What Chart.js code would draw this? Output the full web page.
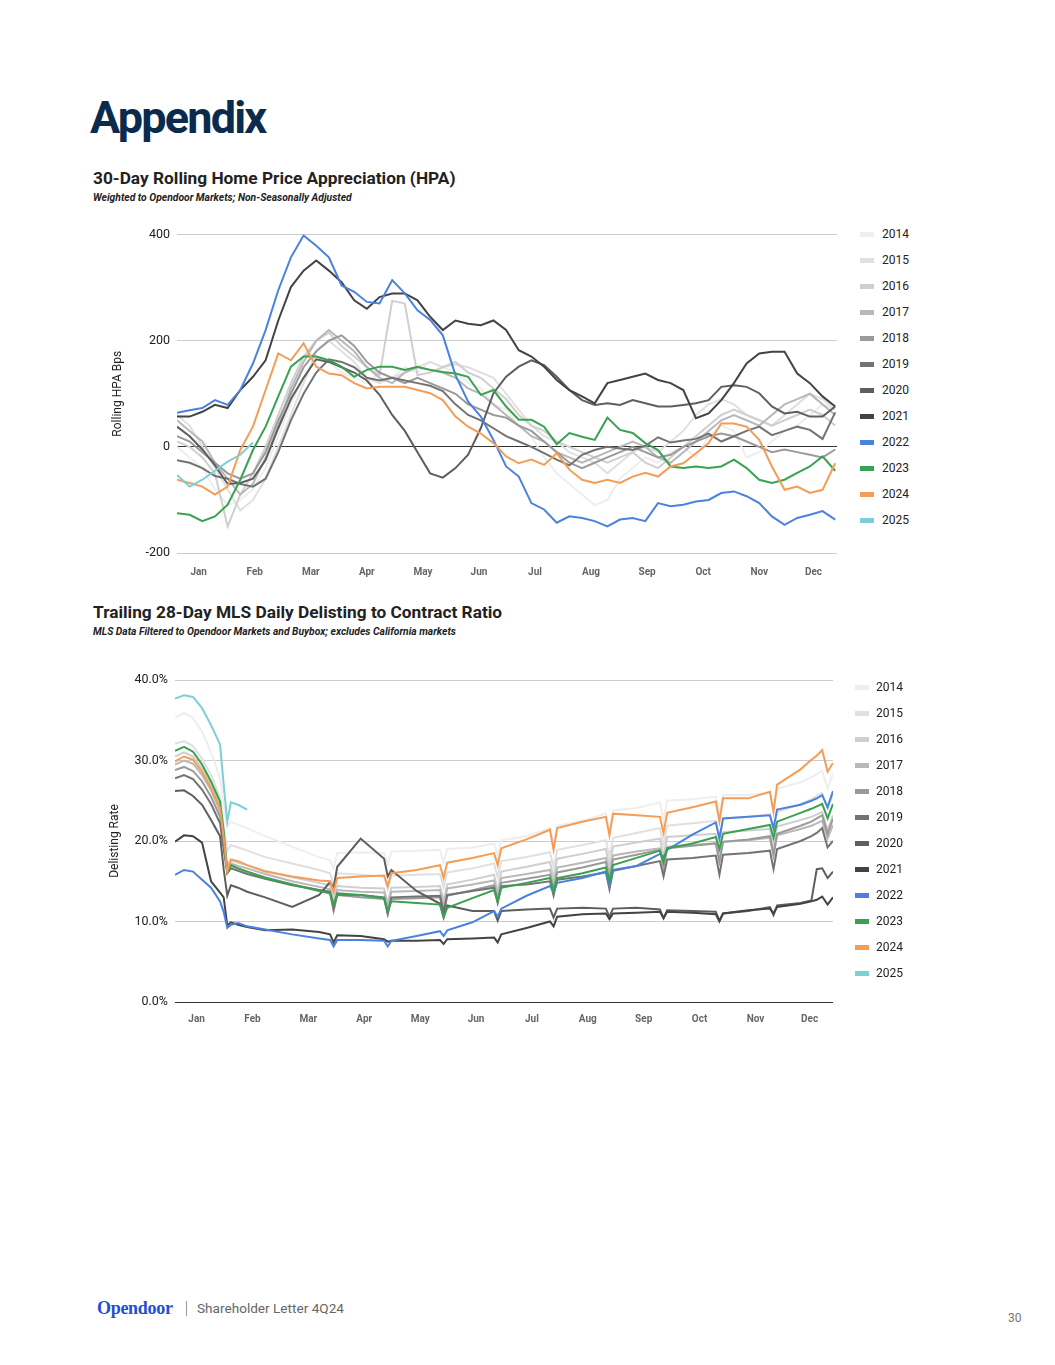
<!DOCTYPE html>
<html>
<head>
<meta charset="utf-8">
<script src="https://cdn.jsdelivr.net/npm/chart.js@4.4.1/dist/chart.umd.min.js"></script>
<style>
  html, body { margin: 0; padding: 0; background: #fff; }
  body { width: 1055px; height: 1365px; position: relative; overflow: hidden; font-family: Roboto, Arial, sans-serif; }
  .abs { position: absolute; white-space: nowrap; }
  #page-title { left: 90px; top: 95px; font-size: 45px; line-height: 45px; font-weight: 700; color: #0b2b4c; letter-spacing: -1.8px; }
  .chart-title { left: 93px; font-size: 17.3px; line-height: 20px; font-weight: 700; color: #222; }
  .chart-sub { left: 93px; font-size: 10.3px; line-height: 12px; font-weight: 700; font-style: italic; color: #222; }
  .chart-box { position: absolute; left: 100px; width: 760px; height: 370px; }
  .legend { position: absolute; left: 0; top: 0; font-size: 12px; color: #222; }
  .legend .item { position: absolute; height: 14px; line-height: 14px; white-space: nowrap; }
  .legend .sw { position: absolute; left: 0; top: 5px; width: 14px; height: 5px; }
  .legend .txt { position: absolute; top: 0; }
  #brand { left: 97px; top: 1298px; font-family: "Liberation Serif", "DejaVu Serif", serif; font-weight: 700; font-size: 18px; line-height: 20px; color: #1f4fd4; letter-spacing: -0.3px; }
  #sep { left: 186px; top: 1301px; width: 1px; height: 15px; background: #999; }
  #letter { left: 197px; top: 1301px; font-size: 13.6px; line-height: 15px; color: #666; }
  #pageno { left: 1008px; top: 1311px; font-size: 12px; line-height: 14px; color: #777; }
</style>
</head>
<body>
<div id="page-title" class="abs">Appendix</div>

<div class="abs chart-title" style="top:168px">30-Day Rolling Home Price Appreciation (HPA)</div>
<div class="abs chart-sub" style="top:192px">Weighted to Opendoor Markets; Non-Seasonally Adjusted</div>
<div class="chart-box" style="top:220px"><canvas id="hpaChart"></canvas></div>
<div id="hpaLegend" class="legend"></div>

<div class="abs chart-title" style="top:602px">Trailing 28-Day MLS Daily Delisting to Contract Ratio</div>
<div class="abs chart-sub" style="top:626px">MLS Data Filtered to Opendoor Markets and Buybox; excludes California markets</div>
<div class="chart-box" style="top:665px"><canvas id="delistChart"></canvas></div>
<div id="delistLegend" class="legend"></div>

<div id="brand" class="abs">Opendoor</div>
<div id="sep" class="abs"></div>
<div id="letter" class="abs">Shareholder Letter 4Q24</div>
<div id="pageno" class="abs">30</div>

<script>
// series names and colours
const years = ['2014', '2015', '2016', '2017', '2018', '2019', '2020', '2021', '2022', '2023', '2024', '2025'];
const yearColors = ['#eeeeee', '#e0e0e0', '#cfcfcf', '#b8b8b8', '#9a9a9a', '#737373', '#5e5e5e', '#434343', '#4a82e0', '#38a251', '#f49d56', '#7ccfd6'];
const monthLabels = ['Jan', 'Feb', 'Mar', 'Apr', 'May', 'Jun', 'Jul', 'Aug', 'Sep', 'Oct', 'Nov', 'Dec'];
const monthTicks = [12, 43, 74, 105, 136, 167, 198, 229, 260, 291, 322, 352];

// 30-day rolling HPA (bps), one value per week of the year
const hpaDays = [0, 7, 14, 21, 28, 35, 42, 49, 56, 63, 70, 77, 84, 91, 98, 105, 112, 119, 126, 133, 140, 147, 154, 161, 168, 175, 182, 189, 196, 203, 210, 217, 224, 231, 238, 245, 252, 259, 266, 273, 280, 287, 294, 301, 308, 315, 322, 329, 336, 343, 350, 357, 364];
const hpaTicks = [-200, 0, 200, 400];
const hpa2014 = [0, -20, -40, -80, -110, -100, -80, -40, 20, 80, 130, 170, 160, 140, 130, 120, 140, 130, 150, 140, 160, 150, 140, 120, 110, 80, 70, 40, 20, -20, -50, -70, -90, -110, -100, -60, -40, -20, -30, -10, 0, -20, 20, 40, 30, -20, -10, 10, 30, 40, 60, 80, 70];
const hpa2015 = [60, 40, 0, -40, -80, -120, -100, -60, 0, 60, 120, 180, 200, 180, 160, 130, 120, 130, 140, 150, 160, 150, 155, 150, 140, 130, 100, 70, 40, 20, 10, -10, -20, -30, -50, -30, -10, 0, -10, 10, 30, 60, 80, 90, 80, 60, 50, 40, 60, 80, 100, 90, 70];
const hpa2016 = [10, 0, -20, -50, -150, -90, -50, 0, 60, 120, 170, 200, 215, 190, 170, 150, 135, 275, 270, 135, 140, 150, 160, 140, 130, 110, 90, 60, 40, 30, 10, 0, -10, -20, -30, -20, -10, -30, -40, -20, 0, 20, 40, 60, 70, 60, 50, 40, 50, 60, 70, 60, 40];
const hpa2017 = [50, 30, 10, -30, -60, -90, -70, -20, 40, 110, 160, 200, 220, 200, 180, 150, 130, 120, 140, 150, 145, 140, 130, 110, 100, 80, 60, 40, 20, 10, -10, -20, -30, -20, -10, 0, 10, 0, -20, -30, -10, 10, 30, 50, 60, 50, 40, 60, 80, 90, 100, 80, 60];
const hpa2018 = [20, 10, -10, -30, -50, -60, -50, -10, 50, 100, 150, 180, 200, 210, 190, 160, 140, 130, 120, 130, 120, 110, 100, 80, 70, 60, 55, 40, 30, 10, -10, -30, -40, -30, -20, -10, 0, -10, -20, -15, 0, 10, 20, 25, 20, 10, 0, -10, -5, -10, -15, -20, -5];
const hpa2019 = [-25, -30, -40, -55, -60, -70, -75, -60, -10, 50, 100, 140, 165, 160, 150, 130, 125, 130, 125, 120, 115, 105, 80, 60, 50, 35, 20, 10, 0, -12, -24, -35, -15, -6, 0, -3, -6, 2, 18, 8, 12, 15, 25, 10, 20, 30, 38, 22, 30, 38, 32, 15, 65];
const hpa2020 = [38, 20, -5, -35, -70, -68, -60, -25, 35, 90, 130, 165, 160, 150, 140, 125, 98, 60, 30, -10, -50, -58, -40, -15, 35, 101, 132, 151, 163, 154, 132, 107, 88, 79, 82, 79, 88, 82, 76, 76, 79, 82, 88, 113, 116, 113, 101, 76, 63, 66, 57, 57, 76];
const hpa2021 = [57, 57, 66, 79, 73, 107, 132, 163, 238, 301, 332, 351, 332, 310, 276, 260, 282, 289, 289, 276, 245, 220, 238, 232, 229, 238, 220, 182, 170, 151, 126, 107, 95, 82, 120, 126, 132, 138, 126, 120, 107, 54, 63, 88, 120, 157, 176, 179, 179, 138, 120, 95, 76];
const hpa2022 = [64, 69, 73, 88, 79, 107, 157, 220, 295, 357, 398, 379, 357, 304, 292, 273, 270, 314, 289, 257, 239, 210, 135, 85, 57, 13, -37, -56, -106, -118, -143, -131, -134, -140, -150, -137, -134, -140, -106, -112, -109, -103, -100, -87, -84, -93, -106, -131, -147, -134, -128, -121, -137];
const hpa2023 = [-125, -128, -140, -131, -109, -62, -6, 38, 95, 151, 170, 170, 163, 151, 132, 145, 151, 151, 145, 151, 145, 141, 138, 132, 98, 107, 76, 51, 51, 38, 5, 26, 19, 13, 55, 32, 26, 7, -6, -37, -40, -37, -40, -37, -24, -40, -62, -68, -62, -49, -37, -18, -45];
const hpa2024 = [-62, -68, -75, -90, -75, -6, 38, 107, 176, 163, 195, 151, 138, 135, 120, 110, 113, 113, 113, 107, 101, 88, 57, 38, 25, 7, -18, -31, -24, -34, -12, -43, -62, -68, -62, -68, -56, -49, -56, -37, -31, -12, 7, 44, 44, 38, 13, -37, -81, -75, -87, -81, -31];
const hpa2025 = [-53, -75, -62, -45, -28, -15, 8];

// trailing 28-day delisting to contract ratio (%), sampled around the monthly dips
const delistDays = [0, 5, 10, 15, 20, 25, 27, 29, 31, 35, 40, 50, 65, 80, 86, 88, 90, 103, 116, 118, 120, 134, 147, 149, 151, 165, 177, 179, 181, 195, 208, 210, 212, 226, 239, 241, 243, 256, 269, 271, 273, 287, 300, 302, 304, 318, 330, 332, 334, 347, 353, 356, 359, 362, 365];
const delistTicks = [0, 10, 20, 30, 40];
const delist2014 = [35.3, 35.9, 35.3, 33.6, 31.0, 27.8, 24.5, 21.8, 22.4, 22.0, 21.6, 20.6, 19.3, 18.0, 17.6, 16.6, 18.5, 18.6, 18.5, 17.0, 18.7, 18.8, 18.9, 17.3, 19.0, 19.2, 19.7, 18.2, 20.1, 20.6, 21.6, 19.6, 21.9, 22.5, 23.4, 21.3, 23.8, 24.1, 24.8, 22.6, 25.0, 25.2, 25.5, 23.4, 25.7, 25.7, 26.0, 24.0, 26.5, 27.3, 27.9, 28.3, 28.7, 26.5, 28.4];
const delist2015 = [32.1, 32.4, 31.8, 30.2, 28.2, 25.4, 22.0, 18.8, 19.5, 19.2, 18.8, 18.0, 17.2, 16.4, 16.0, 14.6, 16.0, 15.8, 15.6, 14.0, 15.7, 15.8, 15.9, 14.2, 16.1, 16.6, 17.2, 15.5, 17.5, 18.0, 18.6, 16.8, 18.9, 19.5, 20.1, 18.1, 20.4, 21.0, 21.6, 19.4, 21.9, 22.2, 22.5, 20.4, 22.8, 23.0, 23.3, 21.2, 23.6, 24.6, 25.2, 25.6, 26.0, 24.0, 25.8];
const delist2016 = [30.5, 31.0, 30.5, 29.0, 27.0, 24.2, 20.5, 17.0, 17.6, 17.3, 17.0, 16.3, 15.5, 14.8, 14.5, 12.8, 14.4, 14.2, 14.1, 12.4, 14.2, 14.3, 14.4, 12.6, 14.6, 15.2, 15.8, 13.8, 16.2, 16.8, 17.4, 15.4, 17.8, 18.4, 19.0, 16.8, 19.3, 19.8, 20.3, 18.0, 20.5, 20.7, 20.9, 18.6, 21.1, 21.3, 21.5, 19.3, 21.8, 22.6, 23.0, 23.3, 23.6, 21.4, 23.2];
const delist2017 = [29.5, 30.0, 29.6, 28.2, 26.3, 23.7, 20.0, 16.6, 17.2, 16.9, 16.6, 15.9, 15.0, 14.3, 14.0, 12.0, 13.9, 13.7, 13.6, 11.8, 13.7, 13.8, 13.9, 11.9, 14.1, 14.6, 15.1, 13.1, 15.4, 15.9, 16.4, 14.4, 16.7, 17.3, 17.9, 15.8, 18.2, 18.7, 19.1, 17.0, 19.3, 19.5, 19.7, 17.5, 19.9, 20.1, 20.4, 18.2, 20.7, 21.5, 21.9, 22.2, 22.5, 20.3, 22.0];
const delist2018 = [28.8, 29.2, 28.7, 27.4, 25.5, 23.0, 19.6, 16.3, 16.9, 16.6, 16.2, 15.5, 14.6, 13.9, 13.5, 11.3, 13.3, 13.0, 12.8, 10.9, 12.8, 12.9, 13.0, 11.0, 13.2, 13.9, 14.5, 12.6, 14.8, 15.3, 15.8, 13.9, 16.1, 16.7, 17.4, 15.2, 17.7, 18.3, 18.9, 16.7, 19.1, 19.4, 19.7, 17.4, 19.9, 20.2, 20.6, 18.3, 20.9, 21.9, 22.4, 22.8, 23.2, 20.9, 22.8];
const delist2019 = [27.8, 28.2, 27.7, 26.4, 24.6, 22.2, 19.0, 16.0, 16.6, 16.3, 15.9, 15.3, 14.5, 13.9, 13.7, 11.6, 13.5, 13.3, 13.0, 11.0, 13.0, 13.1, 13.2, 11.2, 13.3, 13.8, 14.2, 12.3, 14.4, 14.6, 15.0, 13.2, 15.2, 15.6, 16.1, 14.0, 16.3, 16.9, 17.5, 15.6, 17.7, 17.9, 18.2, 15.8, 18.3, 18.5, 18.8, 16.5, 19.0, 20.0, 20.6, 21.0, 21.6, 19.2, 20.0];
const delist2020 = [26.2, 26.3, 25.6, 24.5, 22.6, 20.6, 16.5, 13.2, 14.5, 14.2, 13.7, 13.0, 11.8, 13.3, 14.9, 14.2, 16.8, 20.3, 17.8, 15.6, 16.4, 13.8, 12.2, 10.5, 12.0, 11.3, 11.3, 10.1, 11.3, 11.5, 11.6, 10.5, 11.6, 11.7, 11.6, 10.6, 11.6, 11.7, 11.5, 10.4, 11.4, 11.3, 11.2, 10.1, 11.0, 11.3, 11.8, 10.8, 12.0, 12.3, 12.6, 16.5, 16.6, 15.4, 16.2];
const delist2021 = [19.9, 20.7, 20.6, 19.8, 15.0, 13.6, 13.0, 9.5, 9.9, 9.6, 9.3, 8.9, 9.0, 8.7, 8.4, 7.4, 8.3, 8.2, 7.8, 7.5, 7.6, 7.6, 7.7, 7.2, 7.8, 7.9, 8.0, 7.4, 8.4, 9.2, 10.0, 9.4, 10.6, 10.9, 11.0, 10.3, 11.0, 11.1, 11.2, 10.4, 11.2, 11.1, 10.9, 10.0, 11.0, 11.4, 11.6, 11.0, 11.8, 12.2, 12.5, 12.7, 13.1, 12.1, 13.0];
const delist2022 = [15.8, 16.4, 16.2, 15.2, 14.2, 12.5, 11.2, 9.2, 9.6, 9.8, 9.4, 9.0, 8.4, 7.9, 7.7, 6.9, 7.7, 7.7, 7.6, 6.9, 7.6, 8.2, 8.8, 8.2, 8.9, 9.9, 11.3, 10.6, 11.6, 13.2, 14.4, 13.7, 14.8, 15.4, 16.2, 14.5, 16.4, 16.9, 18.4, 18.0, 18.9, 20.8, 22.3, 20.3, 22.8, 23.0, 23.2, 21.6, 23.9, 24.5, 25.0, 25.3, 25.7, 24.2, 26.2];
const delist2023 = [31.2, 31.7, 31.1, 29.5, 27.4, 24.9, 21.2, 16.2, 17.0, 16.6, 16.2, 15.4, 14.6, 13.8, 13.5, 12.1, 13.3, 13.3, 12.9, 11.3, 12.5, 12.3, 12.1, 10.6, 11.7, 12.9, 13.9, 12.5, 14.2, 14.8, 15.4, 13.7, 15.4, 16.0, 16.7, 15.0, 17.0, 17.9, 18.8, 17.4, 19.1, 19.7, 20.5, 19.0, 20.9, 21.5, 22.0, 20.4, 22.4, 23.5, 24.0, 24.3, 24.6, 22.8, 24.6];
const delist2024 = [29.9, 30.5, 30.1, 28.6, 26.6, 24.1, 20.4, 16.2, 17.7, 17.5, 17.0, 16.2, 15.6, 15.1, 15.0, 13.7, 15.4, 15.6, 15.7, 14.4, 16.0, 16.4, 17.0, 15.4, 17.3, 17.9, 18.5, 17.0, 19.1, 20.2, 21.4, 18.9, 21.6, 22.4, 23.0, 20.7, 23.4, 23.2, 23.0, 21.0, 23.5, 24.2, 24.9, 22.4, 25.3, 25.3, 26.1, 23.6, 27.0, 28.9, 30.1, 30.6, 31.3, 28.6, 29.7];
const delist2025 = [37.7, 38.1, 37.9, 36.5, 34.4, 32.0, 27.0, 22.4, 24.8, 24.5, 23.9];

Chart.defaults.font.family = 'Roboto, Arial, sans-serif';
Chart.defaults.color = '#222';

function buildDatasets(days, series) {
  return series.map((vals, i) => ({
    label: years[i],
    data: vals.map((v, j) => ({ x: days[j], y: v })),
    borderColor: yearColors[i],
    backgroundColor: yearColors[i],
    borderWidth: 2,
    pointRadius: 0,
    pointHoverRadius: 0,
    tension: 0,
    order: series.length - i
  }));
}

function makeChart(id, days, series, o) {
  const ctx = document.getElementById(id).getContext('2d');
  return new Chart(ctx, {
    type: 'line',
    data: { datasets: buildDatasets(days, series) },
    options: {
      responsive: true,
      maintainAspectRatio: false,
      animation: false,
      layout: { padding: { left: 0, right: o.padRight, top: o.padTop, bottom: 0 } },
      plugins: { legend: { display: false }, tooltip: { enabled: false } },
      scales: {
        x: {
          type: 'linear',
          min: 0,
          max: 365,
          afterBuildTicks: s => { s.ticks = monthTicks.map(v => ({ value: v })); },
          afterFit: s => { s.height = o.xHeight; },
          ticks: {
            autoSkip: false,
            maxRotation: 0,
            padding: o.xPad,
            color: '#666',
            font: { size: 10, weight: 'bold' },
            callback: (v, i) => monthLabels[i]
          },
          grid: { display: false },
          border: { display: false }
        },
        y: {
          min: o.yTicks[0],
          max: o.yTicks[o.yTicks.length - 1],
          afterBuildTicks: s => { s.ticks = o.yTicks.map(v => ({ value: v })); },
          afterFit: s => { s.width = o.yWidth; },
          ticks: { padding: 7, color: '#222', font: { size: 12.5 }, callback: o.yFmt },
          grid: {
            drawTicks: false,
            color: c => (c.tick && c.tick.value === 0 ? '#333' : '#cccccc'),
            lineWidth: 1
          },
          border: { display: false },
          title: {
            display: true,
            text: o.yTitle,
            color: '#222',
            font: { size: 12 },
            padding: { top: o.titlePad, bottom: 0 }
          }
        }
      }
    }
  });
}

function buildLegend(chart, el, boxLeft, textLeft, firstY) {
  chart.data.datasets.forEach((ds, i) => {
    const item = document.createElement('div');
    item.className = 'item';
    item.style.left = boxLeft + 'px';
    item.style.top = (firstY + 26 * i - 7) + 'px';
    const sw = document.createElement('span');
    sw.className = 'sw';
    sw.style.background = ds.borderColor;
    const txt = document.createElement('span');
    txt.className = 'txt';
    txt.style.left = (textLeft - boxLeft) + 'px';
    txt.textContent = ds.label;
    item.appendChild(sw);
    item.appendChild(txt);
    el.appendChild(item);
  });
}

const hpaChart = makeChart('hpaChart', hpaDays,
  [hpa2014, hpa2015, hpa2016, hpa2017, hpa2018, hpa2019, hpa2020, hpa2021, hpa2022, hpa2023, hpa2024, hpa2025],
  { padRight: 23, padTop: 14, xHeight: 37, xPad: 5, yWidth: 77, yTicks: hpaTicks, yTitle: 'Rolling HPA Bps', titlePad: 11, yFmt: v => v });

const delistChart = makeChart('delistChart', delistDays,
  [delist2014, delist2015, delist2016, delist2017, delist2018, delist2019, delist2020, delist2021, delist2022, delist2023, delist2024, delist2025],
  { padRight: 27, padTop: 15, xHeight: 33, xPad: 3, yWidth: 75, yTicks: delistTicks, yTitle: 'Delisting Rate', titlePad: 8, yFmt: v => v.toFixed(1) + '%' });

buildLegend(hpaChart, document.getElementById('hpaLegend'), 860, 882, 234);
buildLegend(delistChart, document.getElementById('delistLegend'), 855, 876, 687);
</script>
</body>
</html>
